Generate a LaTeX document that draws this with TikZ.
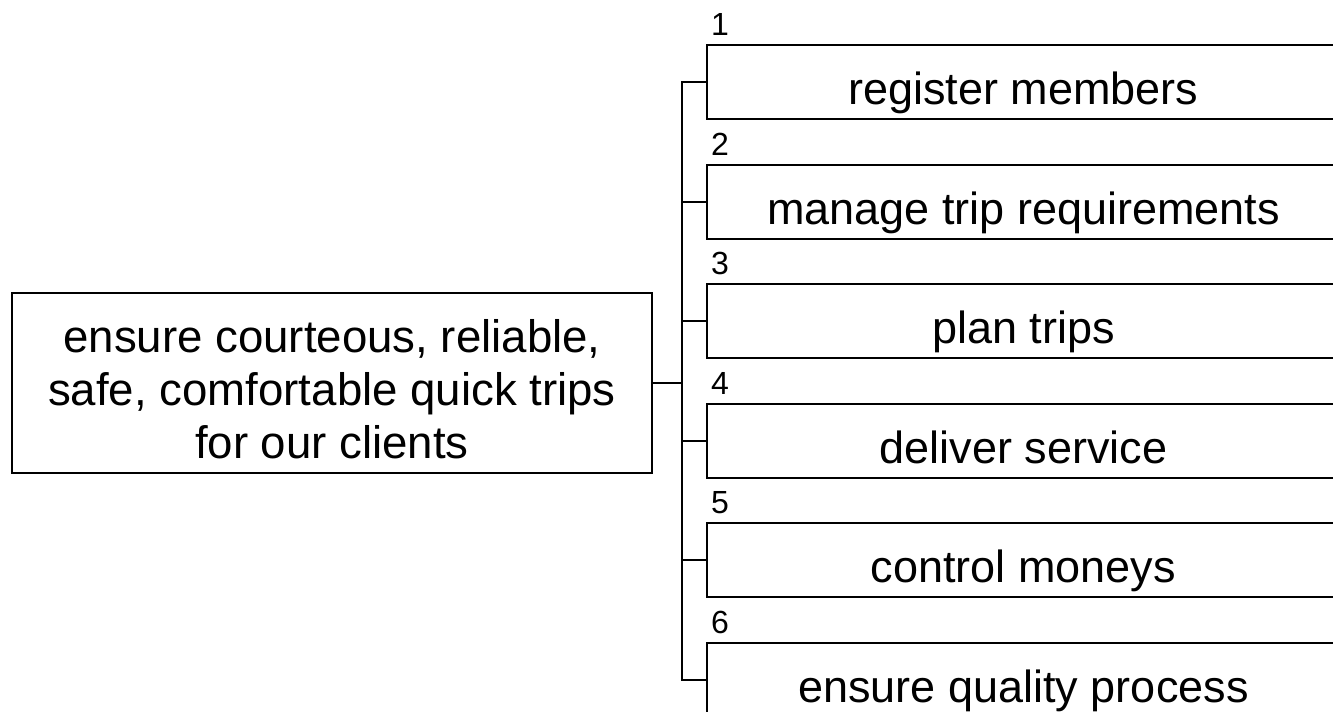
\documentclass[tikz,border=0pt]{standalone}
\usepackage{fontspec}
\setmainfont{Liberation Sans}
\begin{document}
\begin{tikzpicture}[x=0.5pt,y=-0.5pt,line width=1.4pt,
  every node/.style={inner sep=0pt,outer sep=0pt},
  goalbox/.style={draw,rectangle,minimum width=320pt,minimum height=90pt},
  goaltext/.style={align=center,font=\fontsize{22.8}{26.5}\selectfont},
  fnbox/.style={draw,rectangle,anchor=north west,minimum width=316.5pt,
    minimum height=37pt,text height=29.5pt,text depth=7.5pt,
    font=\fontsize{22.5}{26.5}\selectfont},
  numlabel/.style={anchor=base west,font=\fontsize{16}{18}\selectfont},
  link/.style={line join=miter}]
\useasboundingbox (0,0) rectangle (1333,712);
\clip (0,0) rectangle (1333,712);

% top-level goal
\node[goalbox] (goal) at (332,383) {};
\node[goaltext,yshift=-3pt] (goaltxt) at (goal.center)
  {ensure courteous, reliable,\\safe, comfortable quick trips\\for our clients};

% function boxes with their numbers
\node[fnbox] (f1) at (707,45)  {register members};
\node[fnbox] (f2) at (707,165) {manage trip requirements};
\node[fnbox] (f3) at (707,284) {plan trips};
\node[fnbox] (f4) at (707,404) {deliver service};
\node[fnbox] (f5) at (707,523) {control moneys};
\node[fnbox] (f6) at (707,643) {ensure quality process};

\node[numlabel] (n1) at (711,35)  {1};
\node[numlabel] (n2) at (711,155) {2};
\node[numlabel] (n3) at (711,274) {3};
\node[numlabel] (n4) at (711,394) {4};
\node[numlabel] (n5) at (711,513) {5};
\node[numlabel] (n6) at (711,633) {6};

% tree connectors
\coordinate (trunk) at (682,0);
\draw[link] (goal.east) -- (goal.east -| trunk);
\draw[link] (f1.west) -- (f1.west -| trunk) -- (f6.west -| trunk) -- (f6.west);
\foreach \i in {2,3,4,5}
  \draw[link] (f\i.west -| trunk) -- (f\i.west);
\end{tikzpicture}
\end{document}
